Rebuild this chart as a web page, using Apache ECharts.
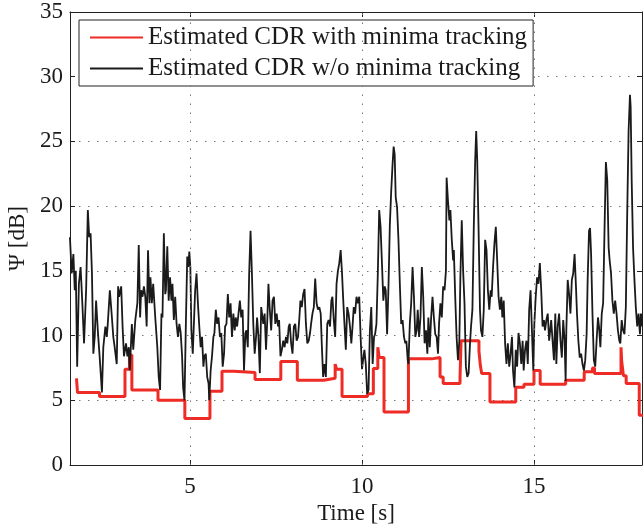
<!DOCTYPE html>
<html><head><meta charset="utf-8">
<script src="https://cdn.jsdelivr.net/npm/echarts@6/dist/echarts.min.js"></script>
<style>html,body{margin:0;padding:0;background:#fff}#c{width:643px;height:524px}</style>
</head><body><div id="c"></div>
<script>
// ---- data ----
const xTicks = [5, 10, 15];
const yTicks = [0, 5, 10, 15, 20, 25, 30, 35];
const seriesNames = ['Estimated CDR with minima tracking', 'Estimated CDR w/o minima tracking'];

// with minima tracking (step changes: [time, value])
const trackedSteps = [
  [1.70,6.7],[1.73,5.6],[2.37,5.3],[3.11,7.4],[3.24,8.5],[3.31,5.8],[4.07,5.0],[4.85,3.6],
  [5.58,5.7],[5.93,7.25],[6.27,7.15],[6.89,6.6],[7.64,8.0],[8.12,6.55],[8.89,6.7],[9.22,7.8],
  [9.26,7.4],[9.42,5.3],[10.16,5.5],[10.33,7.45],[10.46,9.1],[10.50,8.3],[10.64,4.1],[11.35,8.2],
  [12.03,8.3],[12.27,6.8],[12.36,6.3],[12.85,6.8],[12.88,9.6],[13.40,8.8],[13.44,7.7],[13.48,7.06],
  [13.72,4.87],[14.47,6.0],[14.71,6.24],[15.00,7.3],[15.18,6.24],[15.92,6.55],[16.46,7.2],[16.70,7.5],
  [16.76,7.06],[17.53,9.1],[17.55,8.0],[17.60,6.9],[17.68,6.3],[18.06,3.84],[18.2,3.84]
];

// w/o minima tracking ([time, value])
const rawA = [
  [1.51,17.6],[1.56,14.8],[1.61,16.3],[1.65,13.5],[1.68,15.0],[1.72,7.6],[1.77,14.0],[1.82,15.3],
  [1.87,12.5],[1.92,9.4],[1.98,13.5],[2.03,19.7],[2.07,17.6],[2.11,17.9],[2.15,14.8],[2.19,8.6],
  [2.23,9.9],[2.27,12.7],[2.32,10.4],[2.38,8.1],[2.44,5.6],[2.48,9.1],[2.54,10.7],[2.58,9.9],
  [2.61,10.9],[2.67,13.5],[2.73,11.4],[2.77,9.9],[2.81,9.1],[2.87,7.8],[2.91,13.8],[2.94,13.0],
  [3.00,13.8],[3.04,10.7],[3.08,8.4],[3.14,9.4],[3.18,8.4],[3.22,9.1],[3.25,7.3],[3.31,10.9],
  [3.35,8.9],[3.41,11.2],[3.47,12.5],[3.51,17.0],[3.55,11.4],[3.58,13.5],[3.62,13.0],[3.66,13.8],
  [3.70,13.0],[3.74,10.7],[3.78,16.6],[3.82,12.5],[3.85,14.5],[3.89,12.5],[3.93,14.0],[3.99,11.4],
  [4.05,9.1],[4.09,6.8],[4.13,5.8],[4.17,11.7],[4.20,11.4],[4.24,17.9],[4.28,13.2]
];
const rawB = [
  [4.30,13.5],[4.34,16.9],[4.38,12.7],[4.42,14.5],[4.46,12.7],[4.49,14.0],[4.53,11.2],[4.57,13.0],
  [4.61,10.9],[4.65,9.9],[4.69,10.9],[4.73,10.2],[4.77,8.4],[4.80,6.0],[4.84,5.0],[4.88,10.9],
  [4.92,16.1],[4.95,15.3],[4.98,16.5],[5.01,15.3],[5.04,10.4],[5.08,8.6],[5.11,8.6],[5.15,13.5],
  [5.19,14.8],[5.23,12.5],[5.27,10.7],[5.31,9.1],[5.35,9.9],[5.39,7.6],[5.42,8.4],[5.46,8.6],
  [5.50,6.8],[5.54,6.3],[5.56,5.0],[5.60,7.3],[5.64,8.4],[5.68,9.9],[5.71,10.2],[5.75,12.0],
  [5.79,10.9],[5.83,11.4],[5.87,9.9],[5.91,10.2],[5.95,7.6],[5.99,8.6],[6.02,10.7],[6.06,10.9],
  [6.10,13.2],[6.14,11.4],[6.18,12.5],[6.22,9.9],[6.26,11.7],[6.30,10.4],[6.33,11.4],[6.37,10.7],
  [6.41,11.7],[6.45,12.7],[6.49,11.4],[6.53,12.0],[6.57,7.3],[6.61,10.2],[6.64,10.4],[6.68,9.1],
  [6.72,14.8],[6.76,18.1],[6.80,14.8],[6.84,10.9],[6.88,8.6],[6.92,9.9],[6.95,11.4],[6.99,9.9],
  [7.03,7.1],[7.07,12.2]
];
const rawC = [
  [7.13,10.9],[7.17,11.7],[7.21,8.9],[7.25,11.4],[7.28,14.0],[7.32,12.0],[7.36,10.4],[7.40,12.7],
  [7.44,13.0],[7.48,10.9],[7.52,11.7],[7.56,10.7],[7.59,11.2],[7.63,8.4],[7.67,8.9],[7.71,9.6],
  [7.75,9.1],[7.79,9.9],[7.83,9.4],[7.87,10.7],[7.90,10.9],[7.94,9.4],[7.98,8.6],[8.02,10.7],
  [8.06,10.9],[8.10,9.6],[8.14,9.9],[8.18,11.4],[8.21,12.7],[8.25,12.2],[8.29,13.2],[8.33,13.6],
  [8.37,10.9],[8.41,9.4],[8.45,9.6],[8.49,10.2],[8.52,10.9],[8.56,11.7],[8.60,12.2],[8.64,14.4],
  [8.68,12.5],[8.72,12.0],[8.76,12.2],[8.80,11.7],[8.83,9.4],[8.87,6.8],[8.91,7.8],[8.95,6.8],
  [8.99,10.9],[9.03,11.2],[9.07,10.7],[9.11,12.7],[9.14,13.0],[9.18,11.2],[9.22,9.9],[9.26,14.0],
  [9.30,15.0],[9.34,15.6],[9.38,16.6],[9.42,14.8],[9.45,13.0],[9.49,10.9],[9.53,8.9],[9.57,12.2],
  [9.61,11.7],[9.65,10.7],[9.69,9.4],[9.73,10.9],[9.76,12.2],[9.80,11.7],[9.84,13.0],[9.88,12.5]
];
const rawD = [
  [9.92,13.0],[9.96,9.9],[10.00,7.4],[10.04,8.3],[10.07,8.9],[10.11,7.8],[10.15,5.5],[10.19,5.8],
  [10.23,10.4],[10.27,12.2],[10.31,7.8],[10.35,9.9],[10.38,10.1],[10.42,10.9],[10.46,14.8],[10.50,19.7],
  [10.54,18.4],[10.58,15.6],[10.62,12.7],[10.66,13.8],[10.69,13.5],[10.73,10.1],[10.77,13.8],[10.81,18.6],
  [10.85,21.2],[10.89,23.3],[10.92,24.6],[10.95,24.0],[10.98,20.7],[11.02,19.9],[11.06,17.4],[11.10,14.0],
  [11.14,10.9],[11.18,11.2],[11.22,9.9],[11.26,9.4],[11.29,9.6],[11.33,8.1],[11.35,7.8],[11.39,10.9],
  [11.43,12.5],[11.47,15.3],[11.51,13.0],[11.55,9.9],[11.59,10.4],[11.62,12.0],[11.66,9.9],[11.70,11.4],
  [11.74,15.3],[11.78,13.0],[11.82,9.4],[11.86,10.4],[11.90,8.6],[11.93,11.4],[11.97,9.1],[12.01,11.4],
  [12.05,13.0],[12.09,11.4],[12.13,10.1],[12.17,9.9],[12.21,8.6],[12.24,10.9],[12.28,12.5],[12.32,11.4],
  [12.36,13.8],[12.40,13.5],[12.44,15.0],[12.46,22.2],[12.50,20.4],[12.54,18.9],[12.57,19.7],[12.61,17.4],
  [12.65,15.8]
];
const rawE = [
  [12.67,16.6],[12.71,13.0],[12.75,9.9],[12.79,8.1],[12.83,9.6],[12.86,14.5],[12.90,18.9],[12.94,15.0],
  [12.98,12.5],[13.02,7.6],[13.06,6.8],[13.10,7.1],[13.14,9.4],[13.17,10.7],[13.21,12.0],[13.25,18.4],
  [13.29,23.5],[13.32,25.8],[13.35,23.5],[13.39,18.1],[13.43,12.0],[13.46,10.4],[13.50,9.9],[13.54,12.0],
  [13.58,17.4],[13.62,16.6],[13.66,13.5],[13.70,12.0],[13.74,13.5],[13.77,13.0],[13.81,15.3],[13.85,17.1],
  [13.89,18.4],[13.93,15.8],[13.97,13.0],[14.01,12.0],[14.05,13.0],[14.08,11.4],[14.12,12.7],[14.16,9.4],
  [14.20,7.8],[14.24,9.4],[14.28,7.6],[14.32,8.6],[14.36,9.9],[14.39,7.3],[14.43,6.0],[14.47,8.9],
  [14.51,7.6],[14.55,10.2],[14.59,9.4],[14.63,7.8],[14.67,9.6],[14.70,7.3],[14.74,8.9],[14.78,9.6],
  [14.82,7.8],[14.86,12.0],[14.90,13.5],[14.94,10.4],[14.98,7.3],[15.01,10.9],[15.05,13.0],[15.09,14.5],
  [15.13,14.0],[15.17,15.6],[15.21,13.5],[15.25,10.7],[15.29,11.2],[15.32,10.4],[15.36,11.2],[15.40,11.7],
  [15.44,9.6]
];
const rawF = [
  [15.46,10.1],[15.50,11.2],[15.54,9.6],[15.58,8.1],[15.62,11.7],[15.65,7.8],[15.69,10.7],[15.73,11.7],
  [15.77,9.6],[15.81,8.3],[15.85,11.2],[15.89,9.6],[15.92,6.5],[15.94,10.4],[15.98,14.3],[16.02,13.2],
  [16.06,11.7],[16.10,14.3],[16.14,14.8],[16.18,16.3],[16.22,13.8],[16.25,11.7],[16.29,9.6],[16.33,8.3],
  [16.37,8.6],[16.41,7.8],[16.45,7.3],[16.49,8.1],[16.53,10.1],[16.56,14.3],[16.60,18.1],[16.63,18.3],
  [16.66,16.3],[16.70,11.7],[16.74,8.1],[16.78,7.6],[16.82,9.6],[16.86,11.4],[16.89,10.7],[16.93,9.1],
  [16.97,11.7],[17.01,12.5],[17.05,18.1],[17.09,23.4],[17.13,22.0],[17.17,16.8],[17.20,15.8],[17.24,14.8],
  [17.28,12.7],[17.32,11.7],[17.36,12.7],[17.40,11.7],[17.44,10.4],[17.48,9.6],[17.51,9.4],[17.55,11.2],
  [17.59,10.4],[17.63,10.1],[17.67,12.2],[17.71,19.4],[17.75,25.8],[17.79,28.6],[17.81,27.7],[17.84,22.0],
  [17.88,16.8],[17.92,14.3],[17.96,12.2],[18.00,10.7],[18.04,11.7],[18.08,10.1],[18.11,11.7],[18.15,10.7]
];

// ---- chart ----
const untracked = [].concat(rawA, rawB, rawC, rawD, rawE, rawF);
const FONT = 'Liberation Serif';
const TXT = '#1a1a1a';
const gridDot = { color: '#777', width: 1, type: [1.5, 7.5] };
const chart = echarts.init(document.getElementById('c'), null, { renderer: 'canvas' });
chart.setOption({
  animation: false,
  backgroundColor: '#fff',
  textStyle: { fontFamily: FONT },
  grid: { left: 70, right: 1, top: 12, bottom: 59, containLabel: false, outerBoundsMode: 'none' },
  legend: {
    data: seriesNames,
    orient: 'vertical', left: 79, top: 20,
    padding: [5, 6, 5, 10],
    itemWidth: 53, itemHeight: 14, itemGap: 6,
    itemStyle: { opacity: 0 },
    backgroundColor: '#fff', borderColor: '#222', borderWidth: 1,
    textStyle: { fontFamily: FONT, fontSize: 25, lineHeight: 24, color: TXT }
  },
  xAxis: [{
    type: 'value', position: 'bottom', min: 1.5116, max: 18.14,
    name: 'Time [s]', nameLocation: 'middle', nameGap: 24,
    nameTextStyle: { fontFamily: FONT, fontSize: 23, color: TXT },
    axisLine: { show: true, onZero: false, lineStyle: { color: '#222', width: 1 } },
    axisTick: { show: true, inside: true, length: 5, customValues: xTicks, lineStyle: { color: '#222' } },
    axisLabel: { customValues: xTicks, margin: 10, fontFamily: FONT, fontSize: 23, color: TXT },
    splitLine: { show: false }
  }, {
    type: 'value', position: 'top', min: 1.5116, max: 18.14,
    axisLine: { show: true, onZero: false, lineStyle: { color: '#222', width: 1 } },
    axisTick: { show: true, inside: true, length: 5, customValues: xTicks, lineStyle: { color: '#222' } },
    axisLabel: { show: false }, splitLine: { show: false }
  }],
  yAxis: [{
    type: 'value', position: 'left', min: 0, max: 35, interval: 5,
    name: 'Ψ [dB]', nameLocation: 'middle', nameGap: 40, nameRotate: 90,
    nameTextStyle: { fontFamily: FONT, fontSize: 23, color: TXT },
    axisLine: { show: true, onZero: false, lineStyle: { color: '#222', width: 1 } },
    axisTick: { show: true, inside: true, length: 5, lineStyle: { color: '#222' } },
    axisLabel: { margin: 7, fontFamily: FONT, fontSize: 23, color: TXT },
    splitLine: { show: true, lineStyle: gridDot }
  }, {
    type: 'value', position: 'right', min: 0, max: 35, interval: 5,
    axisLine: { show: true, onZero: false, lineStyle: { color: '#222', width: 1 } },
    axisTick: { show: true, inside: true, length: 5, lineStyle: { color: '#222' } },
    axisLabel: { show: false }, splitLine: { show: false }
  }],
  series: [{
    name: 'xgrid', type: 'line', data: [], z: 1, silent: true,
    markLine: {
      silent: true, symbol: 'none', label: { show: false },
      lineStyle: gridDot, animation: false,
      data: xTicks.map(v => ({ xAxis: v }))
    }
  }, {
    name: seriesNames[0], type: 'line', step: 'end', data: trackedSteps,
    showSymbol: false, symbol: 'none', z: 3,
    lineStyle: { color: '#ee2b25', width: 3 }, itemStyle: { color: '#ee2b25' }
  }, {
    name: seriesNames[1], type: 'line', data: untracked,
    showSymbol: false, symbol: 'none', z: 4,
    lineStyle: { color: '#1a1a1a', width: 1.8 }, itemStyle: { color: '#1a1a1a' }
  }]
});
</script>
</body></html>
